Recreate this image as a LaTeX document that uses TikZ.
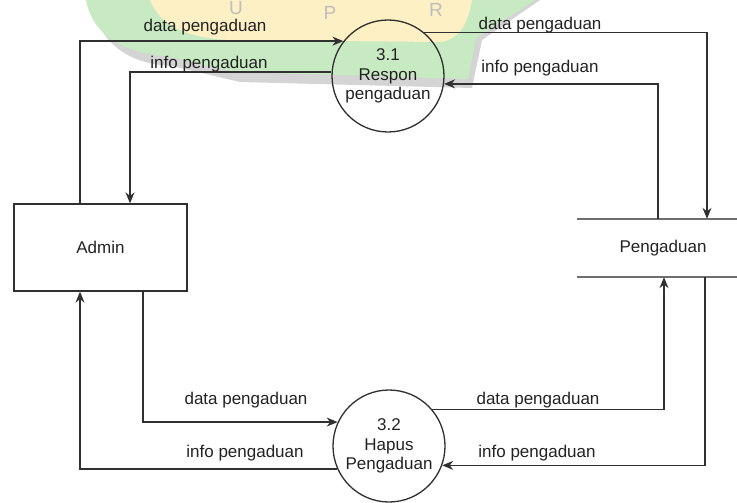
\documentclass[tikz,border=0pt]{standalone}
\usepackage{fontspec}
\setmainfont{Liberation Sans}
\usetikzlibrary{arrows.meta}
\definecolor{txt}{HTML}{222222}
\definecolor{ln}{HTML}{303030}
\definecolor{storeln}{HTML}{6E6E6E}
\definecolor{wgreen}{HTML}{C8EAC2}
\definecolor{wyellow}{HTML}{FCF0C4}
\definecolor{wshadow}{HTML}{D4D4D4}
\definecolor{wletter}{HTML}{BEBEBE}
\begin{document}
\begin{tikzpicture}[x=1pt,y=-1pt,
  font=\fontsize{17}{19.5}\selectfont, text=txt,
  flow/.style={draw=ln, line width=1.3pt, -{Stealth[length=11pt,width=9pt]}},
  proc/.style={circle, draw=ln, line width=1.3pt, minimum size=112pt, inner sep=0pt, align=center},
  ent/.style={draw=ln, line width=1.3pt, minimum width=173pt, minimum height=87pt},
  storenode/.style={minimum width=172pt, minimum height=58pt, inner sep=0pt},
  storeline/.style={draw=storeln, line width=1.8pt},
  lbl/.style={inner sep=0pt},
  wmark/.style={text=wletter, font=\fontsize{19}{19}\selectfont, inner sep=0pt}]
\useasboundingbox (0,0) rectangle (737,503);
\fill[white] (0,0) rectangle (737,503);

% faint watermark behind the diagram
\fill[wshadow] (92,0) .. controls (97,40) and (125,64) .. (172,66) -- (240,82) -- (472,88) -- (482,40) -- (540,0) -- cycle;
\fill[wgreen] (86,0) .. controls (92,32) and (118,52) .. (165,56) -- (235,72) -- (468,79) -- (476,38) -- (535,0) -- cycle;
\fill[wyellow] (150,0) .. controls (160,25) and (185,38) .. (230,40) -- (440,42) .. controls (458,40) and (468,25) .. (472,0) -- cycle;
\node[wmark] (wu) at (236,8.5) {U};
\node[wmark] (wp) at (330,13) {P};
\node[wmark] (wr) at (436,10) {R};

% nodes
\node[ent] (admin) at (100.5,247.5) {Admin};
\node[storenode] (store) at (663,248) {Pengaduan};
\draw[storeline] (store.north west) -- (store.north east);
\draw[storeline] (store.south west) -- (store.south east);
\node[proc] (p31) at (388,76) {3.1\\Respon\\pengaduan};
\node[proc] (p32) at (389,446) {3.2\\Hapus\\Pengaduan};

% x positions of connector legs
\coordinate (xa) at (80,0);
\coordinate (xb) at (130,0);
\coordinate (xc) at (143,0);
\coordinate (xd) at (707,0);
\coordinate (xe) at (658,0);
\coordinate (xf) at (664,0);
\coordinate (xg) at (705,0);

% connectors
\draw[flow] (admin.north -| xa) |- (p31.142.6);
\draw[flow] (p31.176.9) -| (admin.north -| xb);
\draw[flow] (p31.50.2) -| (store.north -| xd);
\draw[flow] (store.north -| xe) |- (p31.-8.2);
\draw[flow] (admin.south -| xc) |- (p32.155.8);
\draw[flow] (p32.204.2) -| (admin.south -| xa);
\draw[flow] (p32.40) -| (store.south -| xf);
\draw[flow] (store.south -| xg) |- (p32.-20.9);

% labels
\node[lbl] (l1) at (205,27.5) {data pengaduan};
\node[lbl] (l2) at (209,64) {info pengaduan};
\node[lbl] (l3) at (540,25) {data pengaduan};
\node[lbl] (l4) at (540,68) {info pengaduan};
\node[lbl] (l5) at (246,400) {data pengaduan};
\node[lbl] (l6) at (245,453) {info pengaduan};
\node[lbl] (l7) at (538,400) {data pengaduan};
\node[lbl] (l8) at (537,453) {info pengaduan};
\end{tikzpicture}
\end{document}
